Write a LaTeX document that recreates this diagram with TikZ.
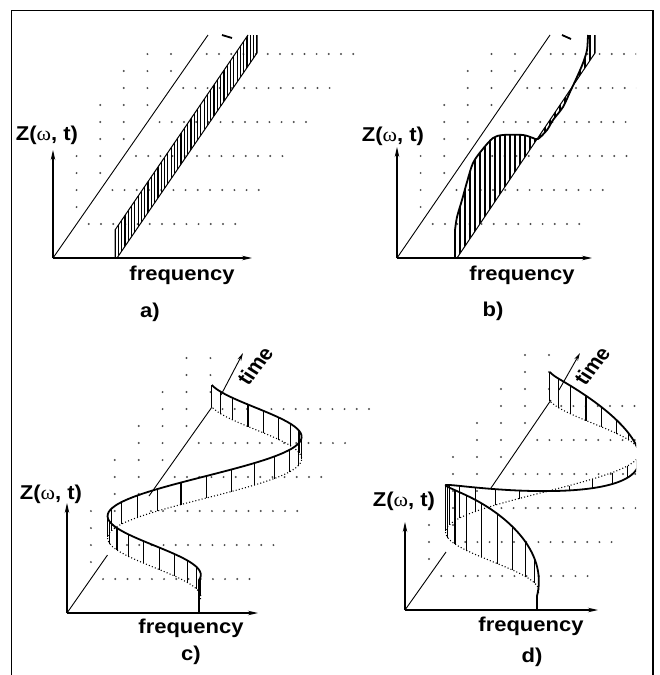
\documentclass[tikz,border=0pt]{standalone}
\usepackage{fontspec}
\setmainfont{Liberation Sans}
\newfontfamily\symfont{Liberation Serif}
\usetikzlibrary{arrows.meta}
\newcommand{\omg}{{\symfont\mdseries ω}}
\tikzset{
  axisline/.style={line width=1.1pt, -{Stealth[length=10pt,width=4.5pt]}},
  timeline/.style={line width=0.9pt},
  hatchline/.style={line width=1.2pt},
  edge/.style={line width=1pt},
  zcurve/.style={line width=1.8pt, line join=round},
  floorcurve/.style={line width=1.1pt, dash pattern=on 1pt off 2.2pt},
  griddot/.style={fill=black!70},
  lab/.style={font=\fontsize{20}{24}\selectfont\bfseries, xscale=1.1, inner sep=0pt}
}

\begin{document}
\begin{tikzpicture}[x=1pt, y=-1pt,
  declare function={
    wc(\x)=129+0.73*\x+70*cos(2.607*\x);
    hd(\x)=(\x<45)*55*sin(2*\x)+and(\x>=45,\x<128)*(21.5+33.5*cos((\x-45)*2.1687))+(\x>=128)*(8.5-20.5*cos(min(\x-128,60)*3));
  }]
  \useasboundingbox (0,0) rectangle (659,675);
  % Frame
  \draw[line width=1.2pt] (11.5,675) -- (11.5,10.5) -- (653,10.5) -- (653,675);

  % Dot grids: origin, time step, top clip, right clip
  \foreach \ox/\oy/\tx/\ytop/\xmax in {53/258/23.6/45/659, 397/258/23.6/45/636, 67/613/23.9/350/659, 405/610/24/350/636}{
    \begin{scope}
      \clip (0,\ytop) rectangle (\xmax,675);
      % floor rows
      \foreach \k in {1,...,6}
        \foreach \i in {1,...,13}
          \fill[griddot] ({\ox+\k*\tx+\i*12.2},{\oy-34*\k}) circle (1.1);
      % wall columns
      \foreach \k/\jmax in {1/4,2/5,3/5,4/5,5/5,6/5}
        \foreach \j in {1,...,\jmax}
          \fill[griddot] ({\ox+\k*\tx},{\oy-34*\k-17*\j}) circle (1.1);
    \end{scope}
  }

  % Axes
  \foreach \ox/\oy/\yt/\xe in {53/258/150/252, 397/258/147/592, 67/613/503/258, 405/610/522/598}{
    \draw[axisline] (\ox,\oy) -- (\ox,\yt);
    \draw[axisline] (\ox,\oy) -- (\xe,\oy);
  }

  % Labels
  \foreach \p/\zx/\zy/\fx/\fy/\cx/\cy in {a/47/135/182/275/150/312, b/393/136/522/275/493/311, c/51/494/191/628/191/655, d/404/501/531/626/532/657}{
    \node[lab] (z\p) at (\zx,\zy) {Z(\omg, t)};
    \node[lab] (f\p) at (\fx,\fy) {frequency};
    \node[lab] (cap\p) at (\cx,\cy) {\p)};
  }

  % a) constant band
  \draw[timeline] (53,258) -- (208,35);
  \draw[zcurve] (222,35) -- (232,38);
  \begin{scope}
    \clip (115,258) -- (115,230) -- (248,35) -- (257,35) -- (257,53) -- (117,258) -- cycle;
    \foreach \x in {115,118.3,...,258}
      \draw[hatchline] (\x,30) -- (\x,260);
  \end{scope}
  \draw[edge] (115,258) -- (115,230) -- (248,35) (257,35) -- (257,53) -- (117,258);

  % b) arbitrary curve
  \draw[timeline] (397,258) -- (550,35);
  \draw[zcurve] (562,35) -- (571,39);
  \begin{scope}
    \clip (455,258) -- plot[smooth] coordinates {(455,230) (457,217) (462,200) (467,182) (473,163) (482,150) (493,138) (503,135) (523,135) (533,138) (538,139) (547,130) (553,120) (563,107) (570,92) (577,77) (583,63) (587,50) (588,35)} -- (595,35) -- (595,53) -- (457,258) -- cycle;
    \foreach \x in {455,460,...,600}
      \draw[hatchline] (\x,30) -- (\x,260);
  \end{scope}
  \draw[zcurve] (455,258) -- plot[smooth] coordinates {(455,230) (457,217) (462,200) (467,182) (473,163) (482,150) (493,138) (503,135) (523,135) (533,138) (538,139) (547,130) (553,120) (563,107) (570,92) (577,77) (583,63) (587,50) (588,35)};
  \draw[edge] (595,35) -- (595,53) -- (457,258);

  % c) sinusoidal ribbon
  \draw[timeline] (67,613) -- (107.5,555) (149,496) -- (212,407);
  \draw[timeline, -{Stealth[length=8pt,width=4pt]}] (221,395) -- (243,353);
  \node[lab, rotate=55] (tc) at (255,366) {time};
  \foreach \pos in {0,6.5,...,195}
    \draw[hatchline] ({wc(\pos)},{580-\pos}) -- ++(0,22);
  \draw[floorcurve] plot[domain=0:195, samples=90, smooth] ({wc(\x)},{602-\x});
  \draw[zcurve] (199,613) -- plot[domain=0:195, samples=90, smooth] ({wc(\x)},{580-\x});

  % d) ribbon with varying height
  \draw[timeline] (405,610) -- (446,552) (491,488) -- (551,400);
  \draw[timeline, -{Stealth[length=8pt,width=4pt]}] (559,390) -- (580,353);
  \node[lab, rotate=55] (td) at (592,366) {time};
  \begin{scope}
    \clip (0,0) rectangle (636,675);
    \foreach \pos in {0,6.5,...,195}
      \draw[hatchline] ({wc(\pos)+338},{596-\pos}) -- ({wc(\pos)+338},{596-\pos-hd(\pos)});
    \draw[floorcurve] plot[domain=0:195, samples=90, smooth] ({wc(\x)+338},{596-\x});
    \draw[zcurve] (537,610) -- plot[domain=0:195, samples=120, smooth] ({wc(\x)+338},{596-\x-hd(\x)});
  \end{scope}
\end{tikzpicture}
\end{document}
